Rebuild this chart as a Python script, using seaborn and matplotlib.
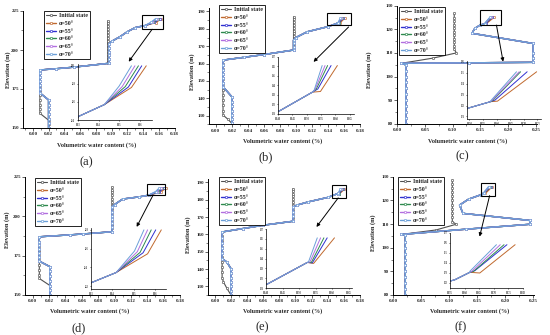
import matplotlib
matplotlib.use("Agg")
import matplotlib.pyplot as plt
from matplotlib.lines import Line2D
from matplotlib.patches import Rectangle
from matplotlib.ticker import MultipleLocator, AutoMinorLocator, FormatStrFormatter
import numpy as np
import seaborn as sns

sns.set_style("ticks")
plt.rcParams["font.family"] = ["Liberation Serif", "DejaVu Serif"]
plt.rcParams["font.weight"] = "bold"

W, H = 550, 335

ANGLES = [50, 55, 60, 65, 70]
LEGEND_LABELS = ["Initial state"] + [f"α={a}°" for a in ANGLES]
COLORS = {"init": "#505050", 50: "#c0692e", 55: "#2f2fd0", 60: "#2e8a4e",
          65: "#b26ee0", 70: "#6b9fd8"}

# ---- (a) ---------------------------------------------------------------
a_init = [(0.020, 150), (0.020, 152.5), (0.020, 155), (0.009, 159.4), (0.009, 162),
          (0.009, 165), (0.009, 168), (0.009, 171), (0.009, 174), (0.009, 177),
          (0.009, 180), (0.009, 183), (0.009, 185), (0.009, 187.2), (0.052, 189),
          (0.095, 191.5), (0.095, 193.5), (0.095, 195.5), (0.095, 197.5), (0.095, 199.5),
          (0.095, 201.5), (0.095, 203.5), (0.095, 205.5), (0.095, 207.5), (0.095, 209.5),
          (0.095, 211.5), (0.095, 213.5), (0.095, 215.5), (0.095, 217), (0.095, 218.6)]
a_base = [(0.020, 150), (0.020, 153), (0.020, 156), (0.020, 159), (0.020, 162),
          (0.020, 165), (0.020, 168), (0.009, 172.5), (0.009, 175), (0.009, 177.5),
          (0.009, 180), (0.009, 182.5), (0.009, 185), (0.009, 187.2), (0.030, 188),
          (0.052, 189), (0.097, 191.5), (0.097, 194), (0.097, 196.5), (0.097, 199),
          (0.097, 201.5), (0.097, 204), (0.100, 205.5), (0.111, 208.6), (0.120, 211.7),
          (0.1303, 214.4), (0.1428, 215.7)]
a_tips = {50: [(0.1560, 217.6), (0.1632, 220)], 55: [(0.1545, 217.65), (0.1610, 220)],
          60: [(0.1530, 217.7), (0.1594, 220)], 65: [(0.1515, 217.7), (0.1577, 220)],
          70: [(0.1500, 217.75), (0.1560, 220)]}

# ---- (b) ---------------------------------------------------------------
b_init = [(0.020, 125.6), (0.015, 128), (0.009, 130.4), (0.009, 133), (0.009, 136),
          (0.009, 139), (0.009, 142), (0.009, 145), (0.009, 148), (0.009, 151),
          (0.009, 154), (0.009, 157), (0.009, 160), (0.009, 162), (0.060, 165.2),
          (0.097, 167.8), (0.097, 169.4), (0.097, 171), (0.097, 172.6), (0.097, 174.2),
          (0.097, 175.8), (0.097, 177.4), (0.097, 179), (0.097, 180.6), (0.097, 182.2),
          (0.097, 183.8), (0.097, 185.4), (0.097, 186.9)]
b_base = [(0.020, 125.6), (0.020, 128), (0.020, 130.5), (0.020, 133), (0.020, 135.5),
          (0.020, 138), (0.020, 140.9), (0.009, 146.7), (0.009, 149), (0.009, 151.5),
          (0.009, 154), (0.009, 156.5), (0.009, 159), (0.009, 162), (0.035, 163.6),
          (0.060, 165.2), (0.097, 167.8), (0.097, 169.7), (0.097, 171.6), (0.097, 173.5),
          (0.100, 175), (0.114, 178.3), (0.1406, 181.34), (0.1520, 183.3)]
b_tips = {50: [(0.1548, 183.37), (0.1607, 186.1)], 55: [(0.1539, 183.64), (0.1585, 186.1)],
          60: [(0.1533, 183.6), (0.1573, 186.1)], 65: [(0.1529, 183.57), (0.1564, 186.1)],
          70: [(0.1526, 183.5), (0.1554, 186.1)]}

# ---- (c) ---------------------------------------------------------------
c_init = [(0.016, 80), (0.016, 82.5), (0.016, 85), (0.016, 87.5), (0.016, 90),
          (0.016, 92.5), (0.016, 95), (0.016, 97.5), (0.016, 100), (0.016, 102.5),
          (0.016, 104.9), (0.008, 105.6), (0.065, 107.8), (0.107, 110.0), (0.103, 111.5),
          (0.103, 113), (0.103, 114.5), (0.103, 116), (0.103, 117.5), (0.103, 119),
          (0.103, 120.5), (0.103, 122), (0.103, 123.5), (0.103, 125), (0.103, 126.8)]
c_base = [(0.016, 80), (0.016, 82.5), (0.016, 85), (0.016, 87.5), (0.016, 90),
          (0.016, 92.5), (0.016, 95), (0.016, 97.5), (0.016, 100), (0.016, 102.5),
          (0.016, 104.9), (0.008, 105.6), (0.130, 105.8), (0.245, 106.0), (0.245, 108),
          (0.245, 110), (0.245, 114), (0.135, 118.3), (0.140, 120.4), (0.1494, 121.75),
          (0.1577, 122.35)]
c_tips = {50: [(0.1603, 122.4), (0.1747, 125.1)], 55: [(0.1594, 122.5), (0.1712, 125.1)],
          60: [(0.1583, 122.4), (0.1688, 125.1)], 65: [(0.1580, 122.4), (0.1683, 125.1)],
          70: [(0.1577, 122.4), (0.1673, 125.1)]}

# ---- (d) ---------------------------------------------------------------
d_init = [(0.021, 150), (0.021, 153), (0.021, 156), (0.008, 160.5), (0.008, 163),
          (0.008, 166), (0.008, 169), (0.008, 172), (0.008, 175), (0.008, 178),
          (0.008, 181), (0.008, 184), (0.008, 187), (0.045, 188.2), (0.097, 190.2),
          (0.097, 192.3), (0.097, 194.4), (0.097, 196.5), (0.097, 198.6), (0.097, 200.7),
          (0.097, 202.8), (0.097, 204.9), (0.097, 207), (0.097, 209.1), (0.097, 211.2),
          (0.097, 213.3), (0.097, 215.4), (0.097, 217), (0.097, 218.7)]
d_base = [(0.021, 150), (0.021, 153), (0.021, 156), (0.021, 159), (0.021, 162),
          (0.021, 165), (0.021, 168), (0.008, 171.5), (0.008, 174), (0.008, 176.5),
          (0.008, 179), (0.008, 181.5), (0.008, 184), (0.008, 187), (0.045, 188.2),
          (0.062, 188.8), (0.097, 190.2), (0.097, 193), (0.097, 195.5), (0.097, 198),
          (0.097, 200.5), (0.097, 203), (0.097, 206), (0.100, 207.5), (0.110, 211.0),
          (0.130, 212.36), (0.1417, 213.45)]
d_tips = {50: [(0.1564, 215.45), (0.1628, 218)], 55: [(0.1543, 215.56), (0.1602, 218)],
          60: [(0.1529, 215.6), (0.1581, 218)], 65: [(0.1516, 215.67), (0.1564, 218)],
          70: [(0.1503, 215.75), (0.1547, 218)]}

# ---- (e) ---------------------------------------------------------------
e_init = [(0.020, 125), (0.015, 128.8), (0.0107, 132.5), (0.009, 135), (0.009, 138),
          (0.009, 141), (0.009, 144), (0.009, 147), (0.009, 150), (0.009, 153),
          (0.009, 156), (0.009, 159), (0.009, 161.4), (0.060, 165.3), (0.097, 167.6),
          (0.097, 169.2), (0.097, 170.8), (0.097, 172.4), (0.097, 174), (0.097, 175.6),
          (0.097, 177.2), (0.097, 178.8), (0.097, 180.4), (0.097, 182), (0.097, 183.6),
          (0.097, 185.1), (0.097, 186.5)]
e_base = [(0.020, 125), (0.020, 127.5), (0.020, 130), (0.020, 132.5), (0.020, 135),
          (0.020, 137.5), (0.020, 140.2), (0.015, 144), (0.009, 146), (0.009, 149),
          (0.009, 152), (0.009, 155), (0.009, 158), (0.009, 161.4), (0.035, 163.4),
          (0.060, 165.3), (0.097, 167.6), (0.097, 170.4), (0.097, 173.2), (0.097, 175.9),
          (0.1016, 176.9), (0.116, 178.8), (0.1404, 181.4), (0.1525, 183.6)]
e_tips = {50: [(0.1544, 183.5), (0.1607, 186.1)], 55: [(0.1540, 183.55), (0.1585, 186.1)],
          60: [(0.1537, 183.6), (0.1575, 186.1)], 65: [(0.1533, 183.65), (0.1565, 186.1)],
          70: [(0.1529, 183.7), (0.1555, 186.1)]}

# ---- (f) ---------------------------------------------------------------
f_init = [(0.022, 80), (0.022, 82.5), (0.022, 85), (0.022, 87.5), (0.022, 90),
          (0.022, 92.5), (0.022, 95), (0.022, 97.5), (0.022, 100), (0.022, 102.5),
          (0.022, 105.4), (0.015, 105.6), (0.077, 107.5), (0.113, 109.9), (0.106, 111),
          (0.106, 112.8), (0.106, 114.6), (0.106, 116.4), (0.106, 118.2), (0.106, 120),
          (0.106, 121.8), (0.106, 123.6), (0.106, 125.4), (0.106, 127), (0.106, 128.6)]
f_base = [(0.022, 80), (0.022, 82.5), (0.022, 85), (0.022, 87.5), (0.022, 90),
          (0.022, 92.5), (0.022, 95), (0.022, 97.5), (0.022, 100), (0.022, 102.5),
          (0.022, 105.4), (0.015, 105.6), (0.130, 107.8), (0.245, 109.9), (0.245, 111.5),
          (0.125, 114.5), (0.119, 118), (0.135, 120.5), (0.1567, 122.33), (0.1618, 123.07)]
f_tips = {50: [(0.1652, 123.0), (0.1773, 125.83)], 55: [(0.1635, 123.23), (0.1745, 125.83)],
          60: [(0.1630, 123.15), (0.1735, 125.83)], 65: [(0.1624, 123.15), (0.1722, 125.83)],
          70: [(0.1618, 123.17), (0.1709, 125.83)]}

# layout: pixel boxes (left, top, right, bottom) measured on the 550x335 picture
PANELS = [
    dict(tag="(a)", init=a_init, base=a_base, tips=a_tips,
         ax=(23, 11, 174.5, 128), xlim=(-0.0125, 0.18), ylim=(150, 225),
         xstep=0.02, ystep=25, xfmt="%.2f",
         ins=(78, 64, 152, 120), ixlim=(0.13, 0.166), iylim=(214, 220.2),
         ixt=[0.13, 0.14, 0.15, 0.16], iyt=[214, 216, 218, 220], ifmt="%.2f",
         box=(0.139, 213.5, 0.165, 222.4), arrow=((0.1516, 213.3), (0.1218, 192.5)),
         leg=(44, 11), ylab=(8, 70), xlab=(97, 145), lab=(86, 162)),
    dict(tag="(b)", init=b_init, base=b_base, tips=b_tips,
         ax=(209, 8, 360, 124.4), xlim=(-0.0085, 0.18), ylim=(125, 192),
         xstep=0.02, ystep=10, xfmt="%.2f",
         ins=(278, 57, 354, 114), ixlim=(0.140, 0.1665), iylim=(181, 187),
         ixt=[0.140, 0.145, 0.150, 0.155, 0.160, 0.165], iyt=[181, 182, 183, 184, 185, 186, 187],
         ifmt="%.3f",
         box=(0.139, 182.1, 0.169, 188.9), arrow=((0.1658, 181.1), (0.122, 161.0)),
         leg=(219, 5), ylab=(192, 72), xlab=(283, 141), lab=(266, 157)),
    dict(tag="(c)", init=c_init, base=c_base, tips=c_tips,
         ax=(397, 5.7, 537, 123.7), xlim=(0, 0.252), ylim=(80, 130),
         xstep=0.05, ystep=10, xfmt="%.2f",
         ins=(467, 61, 541, 119), ixlim=(0.1491, 0.1763), iylim=(120.76, 126.09),
         ixt=[0.150, 0.155, 0.160, 0.165, 0.170, 0.175], iyt=[121, 122, 123, 124, 125, 126],
         ifmt="%.3f",
         box=(0.1486, 121.8, 0.188, 128.2), arrow=((0.179, 121.8), (0.191, 106.3)),
         leg=(399, 7), ylab=(369, 70), xlab=(468, 141), lab=(462, 156)),
    dict(tag="(d)", init=d_init, base=d_base, tips=d_tips,
         ax=(25, 177, 180, 295), xlim=(-0.0095, 0.18), ylim=(150, 225),
         xstep=0.02, ystep=25, xfmt="%.2f",
         ins=(91, 228, 166, 289), ixlim=(0.13, 0.165), iylim=(211.7, 218.2),
         ixt=[0.13, 0.14, 0.15, 0.16], iyt=[212, 214, 216, 218], ifmt="%.2f",
         box=(0.140, 213.4, 0.162, 220.8), arrow=((0.147, 213.4), (0.127, 193.3)),
         leg=(35, 178), ylab=(7, 230), xlab=(90, 311), lab=(79, 328)),
    dict(tag="(e)", init=e_init, base=e_base, tips=e_tips,
         ax=(208, 179, 360, 295), xlim=(-0.0085, 0.18), ylim=(125, 192),
         xstep=0.02, ystep=10, xfmt="%.2f",
         ins=(266, 229, 352, 288), ixlim=(0.140, 0.166), iylim=(181, 187),
         ixt=[0.140, 0.145, 0.150, 0.155, 0.160, 0.165], iyt=[181, 182, 183, 184, 185, 186, 187],
         ifmt="%.3f",
         box=(0.145, 181.1, 0.1625, 188.4), arrow=((0.153, 181.1), (0.126, 164.3)),
         leg=(219, 177), ylab=(188, 235), xlab=(283, 311), lab=(262, 327)),
    dict(tag="(f)", init=f_init, base=f_base, tips=f_tips,
         ax=(393, 176.7, 534, 295), xlim=(0, 0.252), ylim=(80, 130),
         xstep=0.05, ystep=10, xfmt="%.2f",
         ins=(450, 233, 523, 288), ixlim=(0.155, 0.18), iylim=(121.5, 127),
         ixt=[0.155, 0.160, 0.165, 0.170, 0.175, 0.180], iyt=[122, 123, 124, 125, 126, 127],
         ifmt="%.3f",
         box=(0.1566, 122.0, 0.1816, 127.2), arrow=((0.1727, 122.0), (0.1548, 104.7)),
         leg=(398, 177), ylab=(373, 233), xlab=(470, 311), lab=(461, 327)),
]


def frac_rect(l, t, r, b):
    return [l / W, 1 - b / H, (r - l) / W, (b - t) / H]


def draw(ax, pts, color, markers=True, lw=1.0):
    xs, ys = np.array(pts).T
    kw = dict(marker="o", markersize=1.7, markerfacecolor="white",
              markeredgecolor=color, markeredgewidth=0.45) if markers else {}
    sns.lineplot(x=xs, y=ys, ax=ax, sort=False, estimator=None, color=color,
                 lw=lw, legend=False, **kw)


def style_axes(ax, size, length):
    for s in ("top", "right"):
        ax.spines[s].set_visible(False)
    for s in ("left", "bottom"):
        ax.spines[s].set_linewidth(0.7 if length > 1.5 else 0.5)
        ax.spines[s].set_color("black")
    ax.tick_params(which="major", direction="out", length=length, width=0.5,
                   labelsize=size, pad=1)
    ax.tick_params(which="minor", direction="out", length=length * 0.55, width=0.4)
    ax.set_xlabel("")
    ax.set_ylabel("")
    for t in ax.get_xticklabels() + ax.get_yticklabels():
        t.set_fontweight("bold")


fig = plt.figure(figsize=(W / 100, H / 100), dpi=100)

for p in PANELS:
    ax = fig.add_axes(frac_rect(*p["ax"]))
    draw(ax, p["init"], COLORS["init"], lw=0.8)
    for a in ANGLES:
        draw(ax, p["base"] + p["tips"][a], COLORS[a])
    ax.set_xlim(*p["xlim"])
    ax.set_ylim(*p["ylim"])
    ax.xaxis.set_major_locator(MultipleLocator(p["xstep"]))
    ax.xaxis.set_minor_locator(AutoMinorLocator(2))
    ax.yaxis.set_major_locator(MultipleLocator(p["ystep"]))
    ax.yaxis.set_minor_locator(AutoMinorLocator(2))
    ax.xaxis.set_major_formatter(FormatStrFormatter(p["xfmt"]))
    style_axes(ax, 3.6, 2.0)

    # zoom box and arrow
    x0, y0, x1, y1 = p["box"]
    ax.add_patch(Rectangle((x0, y0), x1 - x0, y1 - y0, fill=False, ec="black",
                           lw=0.8, clip_on=False, zorder=6))
    (sx, sy), (ex, ey) = p["arrow"]
    ax.annotate("", xy=(ex, ey), xytext=(sx, sy), annotation_clip=False,
                arrowprops=dict(arrowstyle="-|>", color="black", lw=0.7,
                                mutation_scale=5, shrinkA=0, shrinkB=0))

    # legend
    handles = [Line2D([], [], color=COLORS["init"], lw=0.8, marker="o", markersize=1.7,
                      markerfacecolor="white", markeredgewidth=0.45)]
    handles += [Line2D([], [], color=COLORS[a], lw=1.0, marker="o", markersize=1.7,
                       markerfacecolor="white", markeredgewidth=0.45) for a in ANGLES]
    lx, ly = p["leg"]
    leg = fig.legend(handles, LEGEND_LABELS, loc="upper left",
                     bbox_to_anchor=(lx / W, 1 - ly / H), bbox_transform=fig.transFigure,
                     prop=dict(family="Liberation Serif", weight="bold", size=4.3),
                     frameon=True, fancybox=False, framealpha=1, edgecolor="black",
                     borderpad=0.35, labelspacing=0.42, handlelength=1.7,
                     handletextpad=0.4, borderaxespad=0)
    leg.get_frame().set_linewidth(0.6)

    # inset
    ins = fig.add_axes(frac_rect(*p["ins"]))
    for a in ANGLES:
        draw(ins, p["base"] + p["tips"][a], COLORS[a], markers=False, lw=0.7)
    ins.set_xlim(*p["ixlim"])
    ins.set_ylim(*p["iylim"])
    ins.set_xticks(p["ixt"])
    ins.set_yticks(p["iyt"])
    ins.xaxis.set_major_formatter(FormatStrFormatter(p["ifmt"]))
    ins.yaxis.set_major_formatter(FormatStrFormatter("%d"))
    ins.patch.set_alpha(0)
    style_axes(ins, 1.8, 1.0)

    # labels
    fig.text(p["ylab"][0] / W, 1 - p["ylab"][1] / H, "Elevation (m)", rotation=90,
             ha="center", va="center", fontsize=4.5, fontweight="bold")
    fig.text(p["xlab"][0] / W, 1 - p["xlab"][1] / H, "Volumetric water content (%)",
             ha="center", va="center", fontsize=4.4, fontweight="bold")
    fig.text(p["lab"][0] / W, 1 - p["lab"][1] / H, p["tag"], ha="center", va="center",
             fontsize=9, fontweight="normal")

fig.savefig("out.png", dpi=100)
